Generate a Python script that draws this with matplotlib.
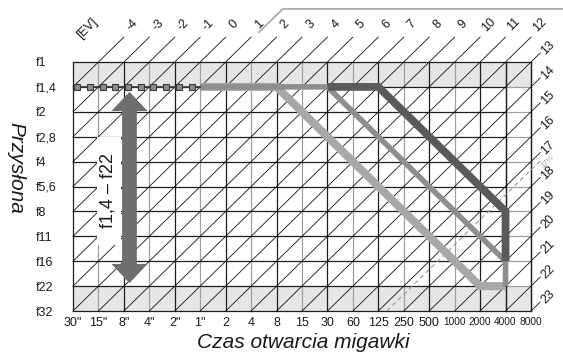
import numpy as np
import matplotlib.pyplot as plt
from matplotlib.patches import Polygon, Rectangle

plt.rcParams['font.family'] = ['Liberation Sans', 'DejaVu Sans']

# aperture rows (top to bottom) and shutter speed columns (left to right)
apertures = ['f1', 'f1,4', 'f2', 'f2,8', 'f4', 'f5,6', 'f8', 'f11', 'f16', 'f22', 'f32']
shutter_speeds = ['30"', '15"', '8"', '4"', '2"', '1"', '2', '4', '8', '15', '30', '60',
                  '125', '250', '500', '1000', '2000', '4000', '8000']
ev_values = list(range(-4, 24))
ev_at_origin = -5  # EV at 30" / f1

# exposure program lines as (shutter speed, aperture) vertices
program_light = [('1"', 'f1,4'), ('8', 'f1,4'), ('2000', 'f22'), ('4000', 'f22')]
program_mid = [('1"', 'f1,4'), ('30', 'f1,4'), ('4000', 'f16'), ('4000', 'f22')]
program_dark = [('30', 'f1,4'), ('125', 'f1,4'), ('4000', 'f8'), ('4000', 'f16')]
slow_range = [('30"', 'f1,4'), ('1"', 'f1,4')]
aperture_range = ('f1,4', 'f22')
limit_ev = 17 + 1 / 3
limit_label = '17⅓'

n_cols = len(shutter_speeds) - 1
n_rows = len(apertures) - 1


def to_grid(points):
    cols = [shutter_speeds.index(s) for s, a in points]
    rows = [apertures.index(a) for s, a in points]
    return cols, rows


def diagonal(s):
    r0 = min(n_rows, s)
    r1 = max(0, s - n_cols)
    return (s - r0, r0), (s - r1, r1)


fig = plt.figure(figsize=(5.63, 3.55), dpi=100)
ax = fig.add_axes([73 / 563, 44 / 355, 458 / 563, 249 / 355])
ax.set_xlim(0, n_cols)
ax.set_ylim(n_rows, 0)
for sp in ax.spines.values():
    sp.set_visible(False)

ax.set_xticks(range(len(shutter_speeds)))
ax.set_xticklabels(shutter_speeds)
ax.set_yticks(range(len(apertures)))
ax.set_yticklabels(apertures)
ax.tick_params(length=0, labelsize=9, colors='#1a1a1a')
ax.tick_params(axis='x', pad=4.5)
ax.tick_params(axis='y', pad=26.6)
for lab in ax.get_yticklabels():
    lab.set_horizontalalignment('left')
for lab in ax.get_xticklabels():
    if len(lab.get_text()) == 4:
        lab.set_fontsize(7.3)

# shaded first and last aperture rows
ax.add_patch(Rectangle((0, 0), n_cols, 1, fc='#e6e6e6', ec='none', zorder=0))
ax.add_patch(Rectangle((0, n_rows - 1), n_cols, 1, fc='#e6e6e6', ec='none', zorder=0))

dark, grey = '#1e1e1e', '#a0a0a0'
for i in range(len(shutter_speeds)):
    col = dark if (i % 2 == 0 or i >= n_cols - 1) else grey
    ax.plot([i, i], [0, n_rows], color=col, lw=0.9, zorder=1, clip_on=False)
for j in range(len(apertures)):
    ax.plot([0, n_cols - 1], [j, j], color=dark, lw=0.9, zorder=1, clip_on=False)
    edge = dark if j in (0, n_rows) else grey
    ax.plot([n_cols - 1, n_cols], [j, j], color=edge, lw=0.9, zorder=1, clip_on=False)
ax.plot([n_cols - 1, n_cols - 1], [0, n_rows], color=dark, lw=0.9, zorder=1.1)
ax.plot([n_cols, n_cols], [0, n_rows], color=dark, lw=0.9, zorder=1.1, clip_on=False)

# constant-EV diagonals with their labels
for ev in ev_values:
    s = ev - ev_at_origin
    (c0, r0), (c1, r1) = diagonal(s)
    if r1 == 0 and s < n_cols:
        ce, re = c1 + 1, -1
        tx, ty = c1 + 1.33, -1.5
    else:
        ce, re = c1 + 0.36, r1 - 0.36
        tx, ty = n_cols + 0.67, r1 - 0.56
    ax.plot([c0, c1, ce], [r0, r1, re], color='#111111', lw=0.6, zorder=1.5, clip_on=False)
    ax.text(tx, ty, str(ev), rotation=45, rotation_mode='anchor', ha='center', va='center',
            fontsize=9, color='#1a1a1a', clip_on=False)
ax.text(0.55, -1.33, '[EV]', rotation=45, rotation_mode='anchor', ha='center', va='center',
        fontsize=9, color='#1a1a1a', clip_on=False)

# flash sync limit, dashed
s = limit_ev - ev_at_origin
(c0, r0), (c1, r1) = diagonal(s)
ax.plot([c0, c1, c1 + 0.4], [r0, r1, r1 - 0.4], color='#9a9a9a', lw=0.8,
        dashes=(4, 3), zorder=1.6, clip_on=False)
ax.text(n_cols + 0.67, r1 - 0.33, limit_label, rotation=45, rotation_mode='anchor',
        ha='center', va='center', fontsize=5.5, color='#9a9a9a', clip_on=False)

# bracket over the upper EV labels
ax.plot([7.31, 8.25, 19.3], [-1.2, -2.13, -2.13], color='#a6a6a6', lw=1.2, clip_on=False)

# exposure programs
for pts, color, lw in [(program_light, '#a8a8a8', 5.8),
                       (program_mid, '#8e8e8e', 4.0),
                       (program_dark, '#5a5a5a', 5.6)]:
    c, r = to_grid(pts)
    ax.plot(c, r, color=color, lw=lw, solid_joinstyle='miter', solid_capstyle='butt', zorder=3)

c, r = to_grid(slow_range)
ax.plot(c, [r[0]] * 2, color='#3c3c3c', lw=1.3, zorder=3.1)
marks = np.arange(c[0] + 0.16, c[1], 0.5)
ax.plot(marks, [r[0]] * len(marks), ls='none', marker='s', ms=4.8, mfc='#8c8c8c',
        mec='#3a3a3a', mew=0.8, zorder=3.2)

# aperture range arrow with its label
top = apertures.index(aperture_range[0]) + 0.2
bottom = apertures.index(aperture_range[1]) - 0.12
x0, hl, hw, sw = 2.22, 0.77, 0.71, 0.29
arrow = [(x0, top), (x0 + hw, top + hl), (x0 + sw, top + hl), (x0 + sw, bottom - hl),
         (x0 + hw, bottom - hl), (x0, bottom), (x0 - hw, bottom - hl), (x0 - sw, bottom - hl),
         (x0 - sw, top + hl), (x0 - hw, top + hl)]
ax.add_patch(Polygon(arrow, closed=True, fc='#6e6e6e', ec='none', zorder=4))
ax.add_patch(Rectangle((0.94, 3.0), 0.95, 4.35, fc='white', ec='none', zorder=2.5))
ax.text(1.36, 5.15, f'{aperture_range[0]} – {aperture_range[1]}', rotation=90,
        ha='center', va='center', fontsize=13, color='#1a1a1a', zorder=5)

fig.text(303.5 / 563, 1 - 343 / 355, 'Czas otwarcia migawki', style='italic',
         fontsize=15, ha='center', va='center', color='#1a1a1a')
fig.text(16 / 563, 1 - 168 / 355, 'Przysłona', style='italic', rotation=270,
         fontsize=15, ha='center', va='center', color='#1a1a1a')

fig.savefig('out.png', dpi=100)
